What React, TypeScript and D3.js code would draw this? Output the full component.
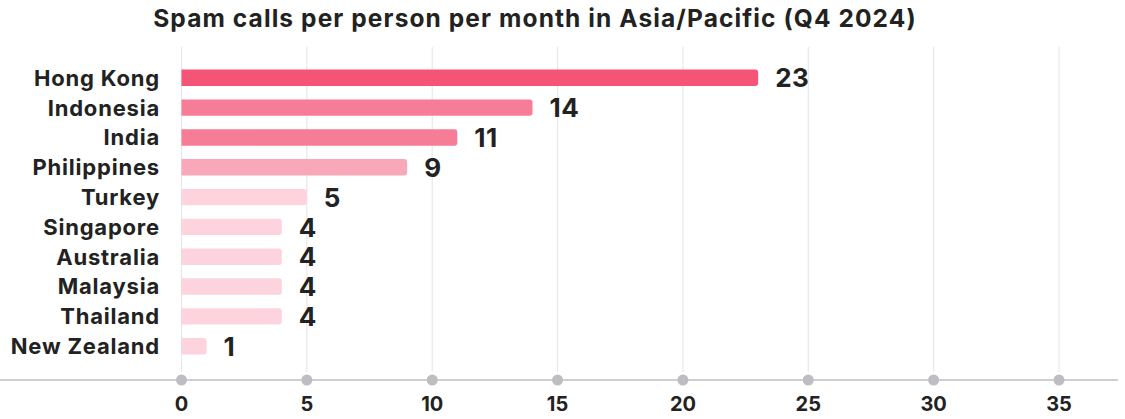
import React from "react";
import * as d3 from "d3";

const countries = ["Hong Kong", "Indonesia", "India", "Philippines", "Turkey", "Singapore", "Australia", "Malaysia", "Thailand", "New Zealand"];
const calls = [23, 14, 11, 9, 5, 4, 4, 4, 4, 1];
const barColors = ["#f55477", "#f77c96", "#f77c96", "#f8a8b9", "#fdd4de", "#fdd4de", "#fdd4de", "#fdd4de", "#fdd4de", "#fdd4de"];
const ticks = [0, 5, 10, 15, 20, 25, 30, 35];
const title = "Spam calls per person per month in Asia/Pacific (Q4 2024)";

const W = 1125, H = 419;
const FONT = "Inter, 'Noto Sans', sans-serif";

export default function App() {
  const x = d3.scaleLinear().domain([0, 35]).range([181.5, 1059]);
  const y = d3.scaleBand().domain(countries).range([63, 361]).paddingInner(0.45).paddingOuter(0.22);
  const bh = y.bandwidth();
  const r = 3;
  const barPath = (v: number, y0: number) => {
    const x0 = x(0), x1 = x(v);
    return `M${x0},${y0} H${x1 - r} Q${x1},${y0} ${x1},${y0 + r} V${y0 + bh - r} Q${x1},${y0 + bh} ${x1 - r},${y0 + bh} H${x0} Z`;
  };
  return (
    <svg width={W} height={H} style={{ position: "absolute", left: 0, top: 0, fontFamily: FONT }}>
      <rect width={W} height={H} fill="#fff" />
      <text x={535} y={27} textAnchor="middle" fontSize={24.5} fontWeight={700} letterSpacing={1.1} fill="#222">{title}</text>
      {ticks.map(t => (
        <line key={"g" + t} x1={x(t)} x2={x(t)} y1={47} y2={372} stroke="#e4e4e6" strokeWidth={1} />
      ))}
      {countries.map((c, i) => {
        const yy = y(c)!;
        return (
          <g key={c}>
            <path d={barPath(calls[i], yy)} fill={barColors[i]} />
            <text x={160} y={yy + bh / 2} dy="0.36em" textAnchor="end" fontSize={22} fontWeight={700} letterSpacing={0.8} fill="#222">{c}</text>
            <text x={x(calls[i]) + 17} y={yy + bh / 2} dy="0.37em" textAnchor="start" fontSize={26} fontWeight={700} letterSpacing={0.5} fill="#222">{calls[i]}</text>
          </g>
        );
      })}
      <line x1={0} x2={1118} y1={380} y2={380} stroke="#cfcfd2" strokeWidth={2} />
      {ticks.map(t => (
        <g key={"t" + t}>
          <circle cx={x(t)} cy={380} r={5.5} fill="#bdbdc2" />
          <text x={x(t)} y={404} dy="0.36em" textAnchor="middle" fontSize={20} fontWeight={700} fill="#222">{t}</text>
        </g>
      ))}
    </svg>
  );
}
